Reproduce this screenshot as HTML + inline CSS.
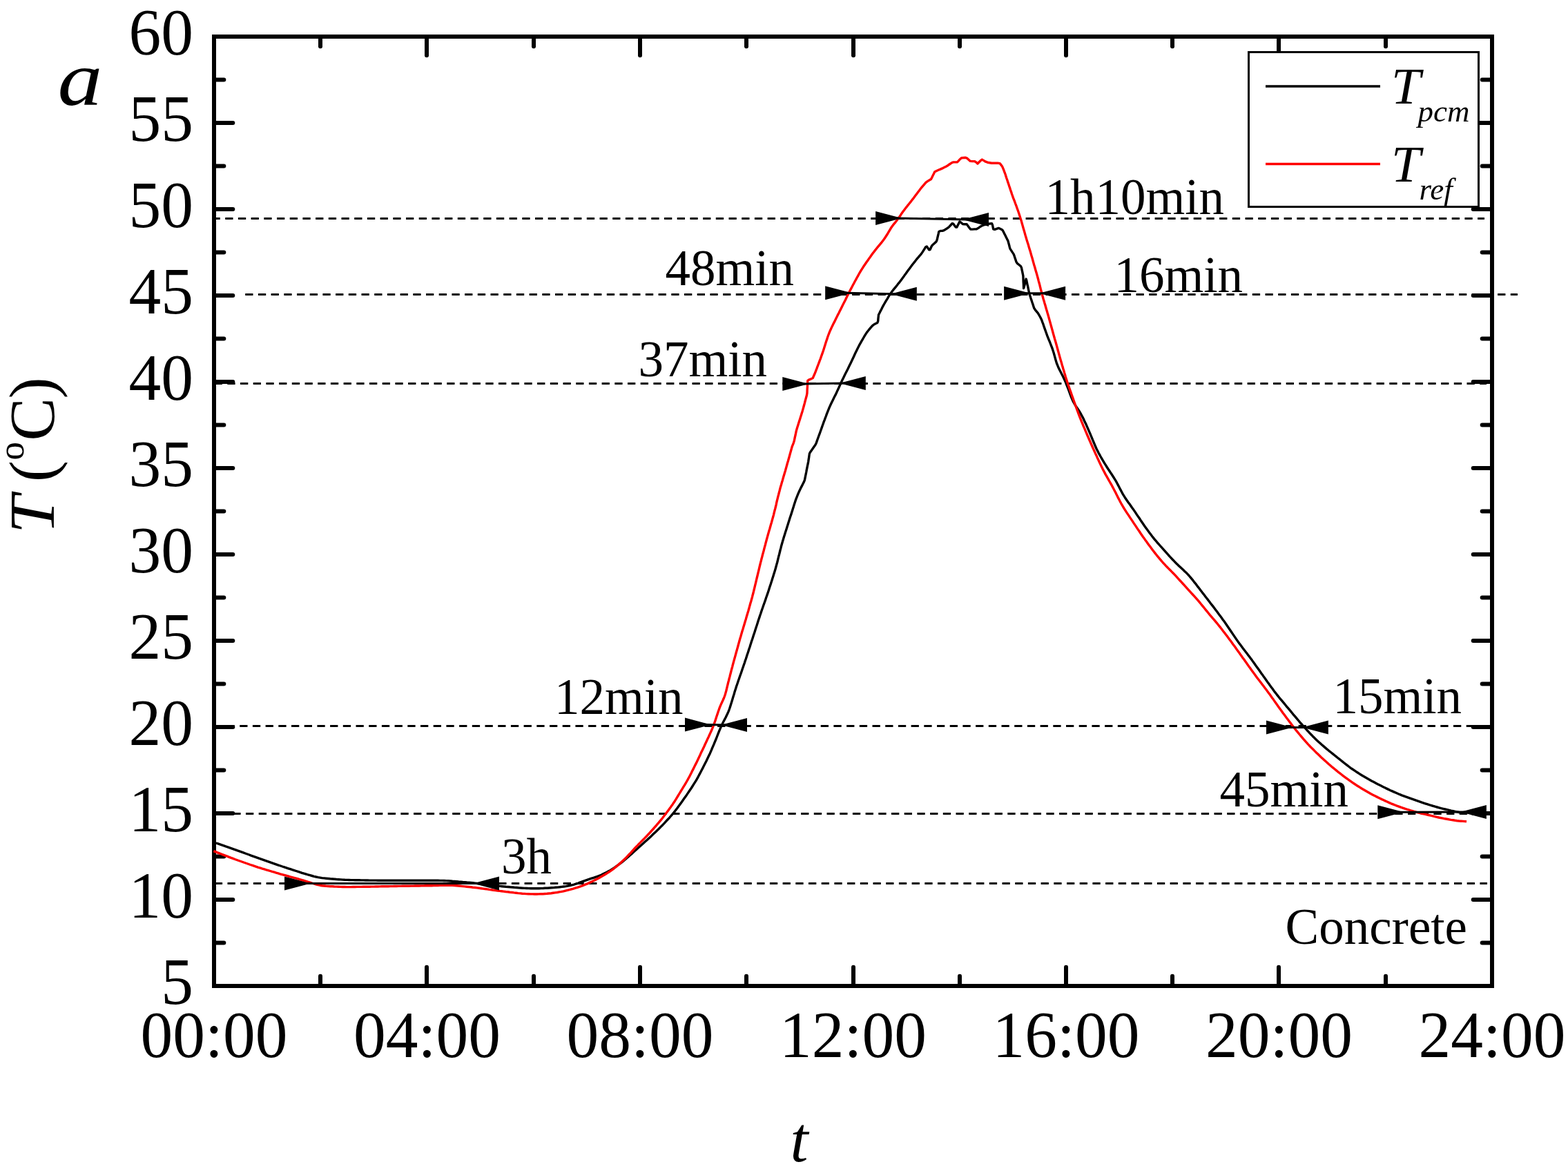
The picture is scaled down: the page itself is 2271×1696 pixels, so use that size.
<!DOCTYPE html>
<html lang="en"><head><meta charset="utf-8"><title>Concrete temperature</title>
<style>
html,body{margin:0;padding:0;background:#fff;}
body{width:2271px;height:1696px;overflow:hidden;}
svg{display:block;}
text{font-family:"Liberation Serif",serif;fill:#000;}
.tk{font-size:93.5px;}
.an{font-size:73px;}
.lg{font-size:73px;font-style:italic;}
.sub{font-size:45px;font-style:italic;}
</style></head><body>
<svg width="2271" height="1696" viewBox="0 0 2271 1696" role="img" aria-label="Concrete temperature over 24 hours">
<rect x="0" y="0" width="2271" height="1696" fill="#fff"/>
<g stroke="#000" stroke-width="6" stroke-linecap="round" fill="none">
<line x1="310.0" y1="1365.5" x2="324.3" y2="1365.5"/>
<line x1="2161.0" y1="1365.5" x2="2146.7" y2="1365.5"/>
<line x1="310.0" y1="1303.0" x2="337.3" y2="1303.0"/>
<line x1="2161.0" y1="1303.0" x2="2133.7" y2="1303.0"/>
<line x1="310.0" y1="1240.5" x2="324.3" y2="1240.5"/>
<line x1="2161.0" y1="1240.5" x2="2146.7" y2="1240.5"/>
<line x1="310.0" y1="1178.0" x2="337.3" y2="1178.0"/>
<line x1="2161.0" y1="1178.0" x2="2133.7" y2="1178.0"/>
<line x1="310.0" y1="1115.5" x2="324.3" y2="1115.5"/>
<line x1="2161.0" y1="1115.5" x2="2146.7" y2="1115.5"/>
<line x1="310.0" y1="1053.0" x2="337.3" y2="1053.0"/>
<line x1="2161.0" y1="1053.0" x2="2133.7" y2="1053.0"/>
<line x1="310.0" y1="990.5" x2="324.3" y2="990.5"/>
<line x1="2161.0" y1="990.5" x2="2146.7" y2="990.5"/>
<line x1="310.0" y1="928.0" x2="337.3" y2="928.0"/>
<line x1="2161.0" y1="928.0" x2="2133.7" y2="928.0"/>
<line x1="310.0" y1="865.5" x2="324.3" y2="865.5"/>
<line x1="2161.0" y1="865.5" x2="2146.7" y2="865.5"/>
<line x1="310.0" y1="803.0" x2="337.3" y2="803.0"/>
<line x1="2161.0" y1="803.0" x2="2133.7" y2="803.0"/>
<line x1="310.0" y1="740.5" x2="324.3" y2="740.5"/>
<line x1="2161.0" y1="740.5" x2="2146.7" y2="740.5"/>
<line x1="310.0" y1="678.0" x2="337.3" y2="678.0"/>
<line x1="2161.0" y1="678.0" x2="2133.7" y2="678.0"/>
<line x1="310.0" y1="615.5" x2="324.3" y2="615.5"/>
<line x1="2161.0" y1="615.5" x2="2146.7" y2="615.5"/>
<line x1="310.0" y1="553.0" x2="337.3" y2="553.0"/>
<line x1="2161.0" y1="553.0" x2="2133.7" y2="553.0"/>
<line x1="310.0" y1="490.5" x2="324.3" y2="490.5"/>
<line x1="2161.0" y1="490.5" x2="2146.7" y2="490.5"/>
<line x1="310.0" y1="428.0" x2="337.3" y2="428.0"/>
<line x1="2161.0" y1="428.0" x2="2133.7" y2="428.0"/>
<line x1="310.0" y1="365.5" x2="324.3" y2="365.5"/>
<line x1="2161.0" y1="365.5" x2="2146.7" y2="365.5"/>
<line x1="310.0" y1="303.0" x2="337.3" y2="303.0"/>
<line x1="2161.0" y1="303.0" x2="2133.7" y2="303.0"/>
<line x1="310.0" y1="240.5" x2="324.3" y2="240.5"/>
<line x1="2161.0" y1="240.5" x2="2146.7" y2="240.5"/>
<line x1="310.0" y1="178.0" x2="337.3" y2="178.0"/>
<line x1="2161.0" y1="178.0" x2="2133.7" y2="178.0"/>
<line x1="310.0" y1="115.5" x2="324.3" y2="115.5"/>
<line x1="2161.0" y1="115.5" x2="2146.7" y2="115.5"/>
<line x1="464.00" y1="1428.0" x2="464.00" y2="1413.7"/>
<line x1="464.00" y1="53.0" x2="464.00" y2="67.3"/>
<line x1="618.00" y1="1428.0" x2="618.00" y2="1400.7"/>
<line x1="618.00" y1="53.0" x2="618.00" y2="80.3"/>
<line x1="773.00" y1="1428.0" x2="773.00" y2="1413.7"/>
<line x1="773.00" y1="53.0" x2="773.00" y2="67.3"/>
<line x1="927.00" y1="1428.0" x2="927.00" y2="1400.7"/>
<line x1="927.00" y1="53.0" x2="927.00" y2="80.3"/>
<line x1="1081.00" y1="1428.0" x2="1081.00" y2="1413.7"/>
<line x1="1081.00" y1="53.0" x2="1081.00" y2="67.3"/>
<line x1="1236.00" y1="1428.0" x2="1236.00" y2="1400.7"/>
<line x1="1236.00" y1="53.0" x2="1236.00" y2="80.3"/>
<line x1="1390.00" y1="1428.0" x2="1390.00" y2="1413.7"/>
<line x1="1390.00" y1="53.0" x2="1390.00" y2="67.3"/>
<line x1="1544.00" y1="1428.0" x2="1544.00" y2="1400.7"/>
<line x1="1544.00" y1="53.0" x2="1544.00" y2="80.3"/>
<line x1="1698.00" y1="1428.0" x2="1698.00" y2="1413.7"/>
<line x1="1698.00" y1="53.0" x2="1698.00" y2="67.3"/>
<line x1="1852.00" y1="1428.0" x2="1852.00" y2="1400.7"/>
<line x1="1852.00" y1="53.0" x2="1852.00" y2="80.3"/>
<line x1="2007.00" y1="1428.0" x2="2007.00" y2="1413.7"/>
<line x1="2007.00" y1="53.0" x2="2007.00" y2="67.3"/>
</g>
<g stroke="#000" stroke-width="3" stroke-dasharray="11.3 7.4" fill="none">
<line x1="307.5" y1="316.5" x2="2150" y2="316.5"/>
<line x1="355.2" y1="426.5" x2="2198" y2="426.5"/>
<line x1="310.6" y1="555.5" x2="2153" y2="555.5"/>
<line x1="309.8" y1="1051.5" x2="2153" y2="1051.5"/>
<line x1="318.6" y1="1178.5" x2="2153" y2="1178.5"/>
<line x1="310.8" y1="1279.5" x2="2154" y2="1279.5"/>
</g>
<rect x="310.0" y="53.0" width="1851.0" height="1375.0" fill="none" stroke="#000" stroke-width="6"/>
<polyline points="310.0,1220.0 312.8,1221.0 315.7,1221.9 318.5,1222.9 321.3,1223.9 324.2,1224.9 327.0,1225.9 329.9,1226.8 332.7,1227.8 335.5,1228.8 338.3,1229.8 341.2,1230.8 344.0,1231.9 346.8,1232.9 349.6,1233.9 352.4,1234.9 355.3,1236.0 358.1,1237.0 360.9,1238.0 363.7,1239.1 366.5,1240.1 369.4,1241.1 372.2,1242.1 375.0,1243.1 377.8,1244.1 380.7,1245.1 383.5,1246.1 386.3,1247.1 389.2,1248.1 392.0,1249.1 394.8,1250.1 397.6,1251.1 400.5,1252.1 403.3,1253.1 406.2,1254.0 409.0,1255.0 411.8,1255.9 414.7,1256.9 417.5,1257.8 420.4,1258.7 423.2,1259.7 426.1,1260.6 429.0,1261.5 431.8,1262.4 434.7,1263.3 437.5,1264.3 440.4,1265.2 443.3,1266.0 446.1,1266.9 449.0,1267.7 451.9,1268.5 454.8,1269.3 457.7,1270.0 460.6,1270.6 463.6,1271.1 466.5,1271.6 469.5,1271.9 472.5,1272.2 475.5,1272.5 478.4,1272.8 481.4,1273.0 484.4,1273.2 487.4,1273.5 490.4,1273.7 493.4,1273.9 496.4,1274.1 499.4,1274.3 502.4,1274.4 505.4,1274.5 508.4,1274.6 511.4,1274.6 514.4,1274.7 517.4,1274.8 520.4,1274.8 523.4,1274.9 526.4,1274.9 529.4,1275.0 532.4,1275.0 535.4,1275.1 538.4,1275.1 541.4,1275.1 544.4,1275.1 547.4,1275.2 550.4,1275.2 553.4,1275.2 556.4,1275.2 559.4,1275.2 562.4,1275.2 565.4,1275.3 568.4,1275.3 571.4,1275.3 574.4,1275.3 577.4,1275.3 580.4,1275.3 583.4,1275.3 586.4,1275.3 589.4,1275.3 592.4,1275.3 595.4,1275.3 598.4,1275.3 601.4,1275.3 604.4,1275.3 607.4,1275.3 610.4,1275.3 613.4,1275.3 616.4,1275.3 619.4,1275.3 622.4,1275.3 625.4,1275.3 628.4,1275.3 631.4,1275.3 634.4,1275.3 637.4,1275.4 640.4,1275.4 643.4,1275.5 646.4,1275.6 649.4,1275.8 652.3,1276.0 655.3,1276.3 658.3,1276.5 661.3,1276.7 664.3,1277.0 667.3,1277.2 670.3,1277.5 673.3,1277.7 676.3,1278.0 679.3,1278.2 682.2,1278.5 685.2,1278.8 688.2,1279.1 691.2,1279.5 694.2,1279.8 697.1,1280.2 700.1,1280.6 703.1,1280.9 706.1,1281.3 709.0,1281.7 712.0,1282.1 715.0,1282.4 718.0,1282.8 721.0,1283.1 723.9,1283.4 726.9,1283.7 729.9,1284.0 732.9,1284.3 735.9,1284.5 738.9,1284.8 741.9,1285.0 744.9,1285.3 747.8,1285.5 750.8,1285.8 753.8,1286.0 756.8,1286.2 759.8,1286.4 762.8,1286.5 765.8,1286.6 768.8,1286.7 771.8,1286.8 774.8,1286.8 777.8,1286.8 780.8,1286.7 783.8,1286.6 786.8,1286.5 789.8,1286.3 792.8,1286.2 795.8,1286.0 798.8,1285.8 801.8,1285.6 804.7,1285.3 807.7,1285.1 810.7,1284.8 813.7,1284.4 816.7,1284.0 819.6,1283.6 822.6,1283.0 825.5,1282.5 828.4,1281.8 831.3,1281.1 834.2,1280.2 837.0,1279.3 839.8,1278.2 842.6,1277.2 845.4,1276.1 848.2,1275.1 851.1,1274.1 853.9,1273.2 856.8,1272.2 859.6,1271.3 862.4,1270.4 865.3,1269.4 868.1,1268.3 870.8,1267.2 873.5,1265.9 876.2,1264.6 878.9,1263.3 881.5,1261.8 884.1,1260.4 886.7,1258.8 889.2,1257.2 891.6,1255.5 894.1,1253.7 896.5,1251.9 898.9,1250.1 901.2,1248.3 903.6,1246.4 905.9,1244.5 908.1,1242.5 910.4,1240.6 912.6,1238.6 914.9,1236.6 917.1,1234.6 919.3,1232.6 921.6,1230.5 923.8,1228.5 926.0,1226.5 928.3,1224.5 930.5,1222.5 932.7,1220.5 934.9,1218.5 937.2,1216.5 939.4,1214.4 941.6,1212.4 943.8,1210.4 945.9,1208.3 948.1,1206.2 950.3,1204.2 952.5,1202.1 954.6,1200.0 956.7,1197.9 958.8,1195.8 960.9,1193.6 963.0,1191.4 965.0,1189.2 967.0,1187.0 969.1,1184.8 971.1,1182.5 973.0,1180.3 975.0,1178.0 976.9,1175.7 978.7,1173.3 980.5,1170.9 982.3,1168.5 984.1,1166.1 985.8,1163.7 987.6,1161.2 989.3,1158.8 991.0,1156.3 992.7,1153.9 994.5,1151.4 996.2,1148.9 997.8,1146.5 999.5,1144.0 1001.2,1141.5 1002.8,1139.0 1004.4,1136.4 1006.0,1133.9 1007.6,1131.3 1009.1,1128.8 1010.6,1126.2 1012.0,1123.5 1013.4,1120.9 1014.8,1118.2 1016.2,1115.5 1017.6,1112.9 1018.9,1110.2 1020.3,1107.5 1021.6,1104.9 1023.0,1102.2 1024.3,1099.5 1025.6,1096.8 1026.9,1094.1 1028.2,1091.4 1029.4,1088.6 1030.6,1085.9 1031.7,1083.1 1032.9,1080.3 1034.1,1077.6 1035.2,1074.8 1036.4,1072.0 1037.5,1069.3 1038.6,1066.5 1039.7,1063.7 1040.8,1060.9 1041.9,1058.1 1043.1,1055.3 1044.3,1052.6 1045.5,1049.9 1046.8,1047.2 1048.2,1044.5 1049.6,1041.9 1051.0,1039.2 1052.3,1036.5 1053.6,1033.8 1054.8,1031.1 1055.9,1028.3 1056.9,1025.5 1057.8,1022.7 1058.7,1019.8 1059.6,1017.0 1060.5,1014.1 1061.3,1011.2 1062.2,1008.3 1063.1,1005.5 1063.9,1002.6 1064.8,999.7 1065.7,996.9 1066.6,994.0 1067.6,991.2 1068.6,988.3 1069.5,985.5 1070.5,982.7 1071.5,979.8 1072.5,977.0 1073.5,974.2 1074.5,971.3 1075.4,968.5 1076.4,965.7 1077.4,962.8 1078.4,960.0 1079.3,957.1 1080.3,954.3 1081.2,951.4 1082.1,948.6 1083.1,945.7 1084.0,942.9 1084.9,940.0 1085.9,937.2 1086.8,934.3 1087.7,931.5 1088.6,928.6 1089.6,925.8 1090.5,922.9 1091.4,920.1 1092.4,917.2 1093.3,914.4 1094.2,911.5 1095.1,908.7 1096.1,905.8 1097.0,902.9 1097.9,900.1 1098.8,897.2 1099.8,894.4 1100.7,891.5 1101.7,888.7 1102.6,885.9 1103.6,883.0 1104.6,880.2 1105.6,877.3 1106.6,874.5 1107.6,871.7 1108.6,868.9 1109.5,866.0 1110.5,863.2 1111.5,860.4 1112.5,857.5 1113.4,854.7 1114.3,851.8 1115.2,849.0 1116.2,846.1 1117.1,843.2 1118.0,840.4 1118.9,837.5 1119.8,834.7 1120.7,831.8 1121.6,828.9 1122.5,826.1 1123.3,823.2 1124.1,820.3 1124.9,817.4 1125.7,814.5 1126.4,811.6 1127.1,808.7 1127.8,805.8 1128.6,802.9 1129.3,800.0 1130.0,797.0 1130.8,794.1 1131.5,791.2 1132.3,788.3 1133.1,785.5 1134.0,782.6 1134.8,779.7 1135.7,776.8 1136.6,774.0 1137.5,771.1 1138.4,768.3 1139.3,765.4 1140.2,762.5 1141.1,759.7 1142.0,756.8 1142.9,754.0 1143.8,751.1 1144.7,748.2 1145.7,745.4 1146.6,742.5 1147.5,739.7 1148.4,736.8 1149.3,733.9 1150.2,731.1 1151.1,728.2 1152.0,725.4 1153.0,722.6 1154.1,719.8 1155.2,717.0 1156.4,714.2 1157.6,711.5 1158.9,708.8 1160.2,706.1 1161.6,703.4 1162.9,700.7 1164.3,698.1 1165.4,695.3 1166.0,692.4 1166.6,689.4 1167.2,686.5 1167.8,683.5 1168.3,680.6 1168.9,677.7 1169.5,674.7 1170.1,671.8 1170.7,668.8 1171.1,665.9 1171.6,662.9 1172.0,659.9 1172.4,657.0 1173.8,654.4 1175.6,651.9 1177.3,649.5 1179.0,647.1 1180.8,644.6 1182.1,642.0 1183.1,639.1 1184.1,636.3 1185.1,633.5 1186.1,630.7 1187.2,627.8 1188.2,625.0 1189.2,622.2 1190.2,619.4 1191.2,616.5 1192.2,613.7 1193.2,610.9 1194.3,608.1 1195.3,605.3 1196.4,602.5 1197.4,599.6 1198.5,596.8 1199.6,594.1 1200.7,591.3 1201.9,588.6 1203.2,585.8 1204.5,583.1 1205.8,580.4 1207.1,577.7 1208.4,575.0 1209.8,572.4 1211.1,569.7 1212.4,566.9 1213.6,564.2 1214.9,561.5 1216.1,558.8 1217.4,556.1 1218.6,553.3 1219.9,550.6 1221.2,547.9 1222.5,545.2 1223.8,542.5 1225.2,539.8 1226.5,537.2 1227.9,534.5 1229.2,531.8 1230.5,529.1 1231.8,526.4 1233.1,523.7 1234.4,521.0 1235.7,518.3 1237.0,515.5 1238.2,512.8 1239.5,510.1 1240.8,507.4 1242.1,504.7 1243.5,502.0 1244.8,499.4 1246.3,496.8 1247.8,494.1 1249.3,491.6 1250.8,489.0 1252.3,486.4 1253.9,483.8 1255.5,481.3 1257.4,479.0 1259.3,476.7 1261.2,474.4 1263.2,472.1 1265.4,470.2 1268.1,468.8 1270.8,467.5 1271.7,464.9 1271.9,462.0 1272.2,459.0 1272.5,456.0 1273.9,453.3 1275.2,450.6 1276.6,448.0 1277.9,445.3 1279.3,442.6 1280.8,440.0 1282.3,437.4 1283.8,434.9 1285.4,432.3 1286.9,429.7 1288.5,427.2 1290.2,424.7 1291.9,422.3 1293.7,419.9 1295.6,417.6 1297.5,415.3 1299.4,413.0 1301.2,410.6 1303.1,408.3 1304.9,405.9 1306.7,403.5 1308.5,401.1 1310.2,398.6 1312.0,396.2 1313.7,393.8 1315.5,391.3 1317.3,388.9 1319.1,386.5 1320.9,384.1 1322.7,381.8 1324.6,379.4 1326.4,377.0 1328.3,374.7 1330.3,372.4 1332.2,370.1 1334.2,367.9 1335.9,365.4 1337.5,362.9 1339.1,360.3 1340.6,357.8 1342.3,356.9 1344.0,359.4 1345.6,361.9 1347.1,361.5 1348.3,358.8 1349.6,356.0 1351.6,353.9 1353.8,351.9 1356.1,349.9 1357.2,347.2 1357.8,344.3 1358.5,341.4 1359.2,338.4 1359.8,335.5 1362.0,334.4 1365.0,334.4 1367.7,333.4 1370.2,331.7 1372.7,330.1 1375.0,328.2 1377.0,326.0 1379.0,323.7 1380.8,324.2 1382.6,326.7 1384.3,329.1 1385.9,329.0 1387.2,326.3 1388.6,323.6 1389.9,320.9 1392.1,322.5 1394.4,324.5 1397.3,324.8 1400.2,324.8 1402.0,327.3 1403.8,329.7 1405.6,332.1 1408.5,332.1 1411.4,331.9 1414.4,331.7 1417.0,330.3 1419.4,328.5 1422.0,327.0 1424.8,325.9 1427.6,324.8 1430.5,324.4 1433.5,324.0 1436.5,323.6 1437.5,325.9 1438.1,328.9 1438.7,331.8 1440.7,332.4 1443.5,331.4 1446.3,330.4 1449.0,331.5 1451.7,332.9 1453.2,335.4 1454.5,338.1 1455.9,340.7 1457.2,343.4 1458.5,346.1 1459.9,348.8 1460.7,351.7 1461.5,354.6 1462.2,357.5 1463.0,360.4 1464.7,362.9 1466.3,365.4 1468.0,367.9 1469.1,370.7 1470.0,373.5 1471.0,376.4 1471.9,379.2 1473.5,381.6 1475.9,383.5 1478.2,385.3 1479.5,387.8 1480.1,390.8 1480.7,393.7 1481.3,396.6 1481.9,399.6 1482.0,402.6 1482.1,405.6 1482.2,408.6 1482.4,411.6 1482.5,414.6 1482.6,417.6 1483.2,415.7 1483.9,412.8 1484.6,409.9 1485.3,407.0 1486.1,404.1 1486.7,405.9 1487.3,408.8 1487.9,411.7 1488.6,414.7 1489.2,417.6 1489.8,420.5 1490.4,423.5 1491.2,426.4 1492.1,429.2 1493.0,432.1 1494.0,434.9 1494.9,437.8 1495.9,440.6 1496.8,443.5 1497.7,446.3 1499.4,448.8 1501.3,451.1 1503.2,453.4 1504.7,455.9 1506.2,458.5 1507.6,461.1 1508.8,463.8 1509.8,466.6 1510.9,469.4 1511.8,472.2 1512.8,475.1 1513.8,477.9 1514.8,480.7 1515.8,483.5 1516.8,486.4 1517.9,489.2 1519.0,491.9 1520.2,494.7 1521.3,497.5 1522.4,500.3 1523.5,503.1 1524.5,505.9 1525.4,508.7 1526.3,511.6 1527.1,514.5 1527.9,517.4 1528.7,520.2 1529.5,523.1 1530.4,526.0 1531.5,528.7 1532.6,531.5 1533.9,534.2 1535.2,536.8 1536.6,539.5 1538.0,542.2 1539.3,544.8 1540.6,547.5 1541.9,550.3 1543.1,553.0 1544.2,555.8 1545.3,558.6 1546.4,561.4 1547.5,564.2 1548.5,567.0 1549.5,569.8 1550.6,572.6 1551.6,575.4 1552.8,578.2 1554.0,580.9 1555.4,583.5 1556.9,586.1 1558.5,588.6 1560.1,591.0 1561.8,593.5 1563.4,596.0 1565.0,598.6 1566.4,601.2 1567.8,603.8 1569.2,606.5 1570.4,609.2 1571.7,611.9 1573.0,614.6 1574.2,617.4 1575.4,620.1 1576.6,622.9 1577.8,625.6 1579.0,628.4 1580.1,631.1 1581.3,633.9 1582.4,636.7 1583.6,639.5 1584.7,642.2 1585.9,645.0 1587.1,647.7 1588.3,650.5 1589.7,653.1 1591.0,655.8 1592.5,658.4 1593.9,661.0 1595.4,663.6 1596.9,666.2 1598.5,668.8 1600.0,671.4 1601.6,673.9 1603.2,676.5 1604.8,679.0 1606.5,681.5 1608.1,684.0 1609.8,686.5 1611.4,689.0 1613.0,691.5 1614.6,694.1 1616.2,696.6 1617.6,699.2 1619.0,701.9 1620.4,704.5 1621.8,707.2 1623.2,709.9 1624.6,712.5 1626.0,715.1 1627.5,717.7 1629.1,720.2 1630.8,722.7 1632.5,725.2 1634.2,727.7 1636.0,730.1 1637.7,732.5 1639.4,735.0 1641.2,737.4 1642.9,739.9 1644.6,742.4 1646.2,744.9 1647.9,747.4 1649.6,749.8 1651.3,752.3 1652.9,754.8 1654.6,757.3 1656.3,759.8 1658.0,762.2 1659.8,764.7 1661.5,767.1 1663.3,769.5 1665.1,771.9 1666.9,774.3 1668.7,776.7 1670.6,779.1 1672.4,781.4 1674.4,783.7 1676.3,786.0 1678.3,788.2 1680.3,790.5 1682.3,792.7 1684.3,794.9 1686.3,797.2 1688.3,799.4 1690.3,801.6 1692.3,803.9 1694.3,806.1 1696.4,808.3 1698.4,810.5 1700.5,812.7 1702.5,814.8 1704.7,816.9 1706.8,819.0 1709.0,821.1 1711.2,823.1 1713.4,825.1 1715.6,827.2 1717.8,829.2 1719.9,831.4 1721.9,833.5 1723.9,835.8 1725.8,838.1 1727.7,840.4 1729.5,842.8 1731.4,845.1 1733.2,847.5 1735.0,849.9 1736.9,852.3 1738.7,854.7 1740.5,857.0 1742.3,859.4 1744.2,861.8 1746.0,864.2 1747.8,866.5 1749.7,868.9 1751.5,871.3 1753.3,873.7 1755.2,876.1 1757.0,878.4 1758.8,880.8 1760.6,883.2 1762.4,885.6 1764.2,888.0 1766.0,890.4 1767.8,892.8 1769.6,895.2 1771.3,897.7 1773.1,900.1 1774.8,902.5 1776.5,905.0 1778.2,907.5 1779.9,910.0 1781.6,912.5 1783.3,915.0 1784.9,917.4 1786.6,919.9 1788.3,922.4 1790.0,924.9 1791.7,927.4 1793.4,929.8 1795.2,932.2 1797.0,934.6 1798.8,937.0 1800.6,939.4 1802.4,941.8 1804.3,944.2 1806.1,946.5 1807.9,948.9 1809.7,951.3 1811.5,953.7 1813.3,956.1 1815.0,958.6 1816.8,961.0 1818.5,963.5 1820.3,965.9 1822.0,968.3 1823.8,970.8 1825.5,973.2 1827.2,975.7 1829.0,978.1 1830.7,980.6 1832.5,983.0 1834.2,985.4 1835.9,987.9 1837.7,990.3 1839.4,992.8 1841.2,995.2 1843.0,997.6 1844.7,1000.0 1846.5,1002.4 1848.4,1004.8 1850.2,1007.1 1852.1,1009.5 1854.0,1011.8 1856.0,1014.1 1857.9,1016.4 1859.8,1018.7 1861.7,1021.0 1863.6,1023.3 1865.6,1025.6 1867.5,1027.9 1869.4,1030.2 1871.3,1032.5 1873.2,1034.8 1875.2,1037.1 1877.1,1039.4 1879.0,1041.7 1881.0,1044.0 1882.9,1046.3 1884.9,1048.5 1886.9,1050.8 1888.9,1053.0 1890.9,1055.2 1892.9,1057.5 1895.0,1059.7 1897.0,1061.9 1899.1,1064.0 1901.2,1066.2 1903.3,1068.3 1905.5,1070.4 1907.6,1072.4 1909.8,1074.4 1912.1,1076.5 1914.3,1078.5 1916.5,1080.4 1918.8,1082.4 1921.1,1084.4 1923.4,1086.3 1925.7,1088.2 1928.1,1090.0 1930.4,1091.9 1932.7,1093.8 1935.1,1095.7 1937.4,1097.5 1939.8,1099.4 1942.1,1101.3 1944.5,1103.2 1946.8,1105.0 1949.2,1106.9 1951.5,1108.7 1953.9,1110.5 1956.3,1112.3 1958.8,1114.0 1961.3,1115.7 1963.8,1117.4 1966.3,1119.0 1968.8,1120.6 1971.3,1122.2 1973.9,1123.8 1976.5,1125.3 1979.1,1126.8 1981.7,1128.3 1984.3,1129.7 1986.9,1131.2 1989.6,1132.6 1992.2,1134.0 1994.9,1135.4 1997.6,1136.8 2000.2,1138.1 2002.9,1139.5 2005.6,1140.8 2008.3,1142.1 2011.0,1143.4 2013.7,1144.7 2016.5,1145.9 2019.2,1147.1 2021.9,1148.3 2024.7,1149.5 2027.5,1150.7 2030.3,1151.8 2033.1,1152.8 2035.9,1153.9 2038.7,1154.9 2041.5,1155.9 2044.3,1156.9 2047.2,1157.9 2050.0,1158.9 2052.8,1159.9 2055.7,1160.9 2058.5,1161.9 2061.3,1162.8 2064.2,1163.8 2067.0,1164.7 2069.9,1165.6 2072.8,1166.5 2075.6,1167.3 2078.5,1168.2 2081.4,1169.0 2084.3,1169.8 2087.2,1170.6 2090.1,1171.3 2093.0,1172.0 2095.9,1172.7 2098.8,1173.4 2101.8,1174.1 2104.7,1174.7 2107.6,1175.3 2110.5,1175.9 2113.3,1176.5 2116.1,1177.0 2118.6,1177.6 2121.0,1178.0 2123.3,1178.5" fill="none" stroke="#000" stroke-width="3.4" stroke-linejoin="round"/>
<polyline points="309.4,1232.6 312.2,1233.7 315.0,1234.8 317.8,1235.9 320.6,1237.0 323.4,1238.1 326.2,1239.2 329.0,1240.2 331.8,1241.3 334.6,1242.4 337.4,1243.4 340.2,1244.5 343.0,1245.5 345.8,1246.5 348.7,1247.5 351.5,1248.5 354.3,1249.5 357.2,1250.5 360.0,1251.5 362.8,1252.5 365.7,1253.4 368.5,1254.4 371.3,1255.3 374.2,1256.3 377.1,1257.2 379.9,1258.1 382.8,1258.9 385.7,1259.8 388.5,1260.6 391.4,1261.5 394.3,1262.4 397.2,1263.2 400.0,1264.1 402.9,1264.9 405.8,1265.8 408.7,1266.6 411.6,1267.4 414.5,1268.2 417.3,1269.0 420.2,1269.8 423.1,1270.6 426.0,1271.4 428.9,1272.2 431.8,1273.0 434.7,1273.8 437.6,1274.7 440.5,1275.5 443.3,1276.4 446.2,1277.3 449.0,1278.2 451.9,1279.1 454.7,1280.0 457.6,1280.9 460.5,1281.6 463.4,1282.2 466.3,1282.7 469.3,1283.0 472.2,1283.3 475.2,1283.5 478.2,1283.7 481.2,1283.8 484.2,1284.0 487.2,1284.1 490.2,1284.2 493.2,1284.4 496.2,1284.5 499.2,1284.5 502.2,1284.6 505.2,1284.6 508.2,1284.6 511.2,1284.5 514.2,1284.5 517.2,1284.4 520.2,1284.4 523.2,1284.4 526.2,1284.3 529.2,1284.3 532.2,1284.2 535.2,1284.2 538.2,1284.1 541.2,1284.1 544.2,1284.0 547.2,1284.0 550.2,1283.9 553.2,1283.8 556.2,1283.8 559.2,1283.7 562.2,1283.7 565.2,1283.6 568.2,1283.6 571.2,1283.5 574.2,1283.5 577.2,1283.4 580.2,1283.4 583.2,1283.3 586.2,1283.3 589.2,1283.2 592.2,1283.2 595.2,1283.1 598.2,1283.1 601.2,1283.0 604.2,1283.0 607.2,1283.0 610.2,1282.9 613.2,1282.9 616.2,1282.8 619.2,1282.8 622.2,1282.7 625.2,1282.7 628.2,1282.6 631.2,1282.6 634.2,1282.5 637.2,1282.4 640.2,1282.4 643.2,1282.3 646.2,1282.2 649.1,1282.1 652.1,1282.2 655.1,1282.3 658.1,1282.5 661.1,1282.7 664.1,1283.0 667.0,1283.3 670.0,1283.6 673.0,1283.9 676.0,1284.2 679.0,1284.5 682.0,1284.8 684.9,1285.2 687.9,1285.5 690.9,1285.9 693.9,1286.3 696.8,1286.7 699.8,1287.1 702.8,1287.5 705.8,1287.9 708.7,1288.4 711.7,1288.8 714.7,1289.2 717.6,1289.6 720.6,1290.0 723.6,1290.4 726.6,1290.7 729.6,1291.1 732.5,1291.5 735.5,1291.8 738.5,1292.2 741.5,1292.5 744.4,1292.9 747.4,1293.2 750.4,1293.6 753.4,1293.9 756.4,1294.2 759.4,1294.4 762.4,1294.6 765.3,1294.7 768.3,1294.9 771.3,1294.9 774.3,1295.0 777.3,1295.0 780.3,1294.9 783.3,1294.8 786.3,1294.7 789.3,1294.5 792.3,1294.3 795.3,1294.0 798.3,1293.7 801.2,1293.3 804.2,1292.9 807.2,1292.5 810.1,1291.9 813.1,1291.4 816.0,1290.8 818.9,1290.1 821.8,1289.4 824.7,1288.7 827.6,1287.9 830.5,1287.1 833.4,1286.2 836.2,1285.3 839.1,1284.3 841.9,1283.3 844.7,1282.3 847.5,1281.2 850.3,1280.1 853.0,1278.9 855.7,1277.6 858.4,1276.3 861.1,1274.9 863.8,1273.6 866.4,1272.2 869.0,1270.7 871.6,1269.2 874.2,1267.7 876.8,1266.2 879.4,1264.6 881.9,1263.0 884.4,1261.3 886.8,1259.6 889.2,1257.8 891.5,1255.9 893.8,1254.0 896.1,1252.1 898.4,1250.1 900.6,1248.1 902.8,1246.1 905.0,1244.0 907.1,1241.9 909.2,1239.7 911.2,1237.5 913.3,1235.3 915.3,1233.1 917.3,1230.9 919.3,1228.7 921.4,1226.5 923.5,1224.4 925.5,1222.2 927.6,1220.1 929.7,1217.9 931.9,1215.8 934.0,1213.6 936.1,1211.5 938.1,1209.3 940.2,1207.2 942.2,1205.0 944.2,1202.7 946.2,1200.5 948.2,1198.2 950.2,1196.0 952.1,1193.7 954.1,1191.4 956.0,1189.1 957.9,1186.8 959.8,1184.5 961.6,1182.1 963.4,1179.7 965.2,1177.3 967.0,1174.9 968.8,1172.5 970.6,1170.1 972.3,1167.6 974.1,1165.2 975.7,1162.7 977.4,1160.2 979.0,1157.7 980.5,1155.1 982.1,1152.5 983.6,1150.0 985.2,1147.4 986.7,1144.8 988.3,1142.3 989.9,1139.7 991.5,1137.2 993.0,1134.6 994.5,1132.0 996.0,1129.4 997.4,1126.8 998.9,1124.1 1000.2,1121.5 1001.6,1118.8 1002.9,1116.1 1004.3,1113.4 1005.6,1110.8 1006.9,1108.1 1008.3,1105.4 1009.6,1102.7 1010.9,1100.0 1012.2,1097.3 1013.5,1094.6 1014.7,1091.8 1016.0,1089.1 1017.3,1086.4 1018.6,1083.7 1019.9,1081.0 1021.1,1078.3 1022.4,1075.6 1023.7,1072.8 1024.9,1070.1 1026.2,1067.4 1027.4,1064.7 1028.7,1061.9 1029.9,1059.2 1031.1,1056.5 1032.3,1053.7 1033.4,1050.9 1034.4,1048.1 1035.4,1045.3 1036.4,1042.4 1037.3,1039.6 1038.2,1036.7 1039.2,1033.9 1040.1,1031.0 1041.1,1028.2 1042.1,1025.4 1043.2,1022.6 1044.4,1019.9 1045.6,1017.2 1046.9,1014.5 1048.1,1011.8 1049.2,1009.0 1050.2,1006.2 1051.0,1003.4 1051.8,1000.5 1052.5,997.6 1053.2,994.7 1053.9,991.8 1054.6,988.8 1055.4,985.9 1056.1,983.0 1056.9,980.1 1057.6,977.2 1058.4,974.3 1059.1,971.4 1059.9,968.5 1060.7,965.6 1061.4,962.7 1062.2,959.8 1063.0,956.9 1063.8,954.0 1064.6,951.1 1065.4,948.2 1066.2,945.3 1067.0,942.5 1067.8,939.6 1068.6,936.7 1069.4,933.8 1070.2,930.9 1071.0,928.0 1071.8,925.1 1072.7,922.2 1073.5,919.4 1074.3,916.5 1075.2,913.6 1076.1,910.7 1076.9,907.9 1077.8,905.0 1078.7,902.1 1079.5,899.2 1080.4,896.4 1081.2,893.5 1082.1,890.6 1082.9,887.7 1083.8,884.9 1084.6,882.0 1085.4,879.1 1086.2,876.2 1087.0,873.3 1087.9,870.4 1088.7,867.5 1089.5,864.6 1090.2,861.7 1091.0,858.8 1091.7,855.9 1092.4,853.0 1093.1,850.1 1093.8,847.2 1094.5,844.3 1095.2,841.4 1095.9,838.4 1096.6,835.5 1097.3,832.6 1098.0,829.7 1098.7,826.8 1099.4,823.8 1100.1,820.9 1100.8,818.0 1101.5,815.1 1102.3,812.2 1103.0,809.3 1103.8,806.4 1104.5,803.5 1105.3,800.6 1106.1,797.7 1106.8,794.8 1107.6,791.9 1108.4,789.0 1109.1,786.1 1109.9,783.2 1110.7,780.3 1111.5,777.4 1112.3,774.5 1113.1,771.6 1113.9,768.7 1114.8,765.9 1115.6,763.0 1116.4,760.1 1117.3,757.2 1118.1,754.3 1118.9,751.4 1119.7,748.5 1120.5,745.6 1121.2,742.7 1121.9,739.8 1122.7,736.9 1123.4,734.0 1124.1,731.1 1124.7,728.2 1125.4,725.2 1126.1,722.3 1126.8,719.4 1127.6,716.5 1128.3,713.6 1129.1,710.7 1129.8,707.8 1130.6,704.9 1131.5,702.0 1132.3,699.1 1133.2,696.3 1134.0,693.4 1134.8,690.5 1135.7,687.6 1136.5,684.7 1137.4,681.9 1138.2,679.0 1139.0,676.1 1139.8,673.2 1140.6,670.3 1141.5,667.4 1142.3,664.5 1143.1,661.7 1143.9,658.8 1144.7,655.9 1145.5,653.0 1146.3,650.1 1147.1,647.2 1148.2,644.4 1149.3,641.6 1150.2,638.8 1150.8,635.8 1151.4,632.9 1152.1,630.0 1152.7,627.0 1153.3,624.1 1154.1,621.2 1155.0,618.3 1155.9,615.5 1156.8,612.6 1157.7,609.8 1158.6,606.9 1159.5,604.0 1160.4,601.2 1161.3,598.3 1162.2,595.4 1163.0,592.6 1163.8,589.7 1164.6,586.8 1165.4,583.9 1166.1,581.0 1166.9,578.1 1167.7,575.2 1168.5,572.3 1169.0,569.3 1169.1,566.3 1169.2,563.3 1169.4,560.3 1169.5,557.3 1169.6,554.4 1169.8,551.4 1171.9,549.8 1174.7,548.8 1177.3,547.5 1178.5,544.7 1179.7,542.0 1180.9,539.2 1181.9,536.4 1183.0,533.6 1184.0,530.8 1185.1,528.0 1186.2,525.2 1187.2,522.4 1188.3,519.6 1189.3,516.8 1190.3,513.9 1191.3,511.1 1192.3,508.3 1193.2,505.4 1194.1,502.6 1195.0,499.7 1195.9,496.8 1196.8,494.0 1197.8,491.1 1198.7,488.3 1199.7,485.5 1200.8,482.7 1201.9,479.9 1203.1,477.2 1204.4,474.4 1205.7,471.7 1207.0,469.1 1208.4,466.4 1209.7,463.7 1211.0,461.0 1212.4,458.3 1213.7,455.6 1215.1,453.0 1216.4,450.3 1217.8,447.6 1219.1,444.9 1220.4,442.2 1221.8,439.5 1223.1,436.9 1224.5,434.2 1225.8,431.5 1227.1,428.8 1228.5,426.1 1229.8,423.5 1231.2,420.8 1232.6,418.1 1234.0,415.5 1235.4,412.8 1236.8,410.2 1238.2,407.5 1239.7,404.9 1241.1,402.3 1242.6,399.6 1244.0,397.0 1245.5,394.4 1247.0,391.9 1248.6,389.3 1250.2,386.8 1251.9,384.3 1253.6,381.8 1255.3,379.3 1257.0,376.9 1258.7,374.4 1260.5,372.0 1262.2,369.6 1264.0,367.1 1265.8,364.7 1267.6,362.4 1269.5,360.0 1271.4,357.7 1273.3,355.4 1275.2,353.1 1277.1,350.8 1278.9,348.4 1280.7,346.0 1282.4,343.5 1284.0,341.0 1285.6,338.5 1287.1,335.9 1288.6,333.3 1290.1,330.8 1291.8,328.3 1293.5,325.9 1295.4,323.6 1297.3,321.3 1299.1,319.0 1300.9,316.6 1302.6,314.2 1304.3,311.7 1305.9,309.2 1307.6,306.8 1309.4,304.4 1311.2,302.0 1313.1,299.7 1314.9,297.3 1316.8,295.0 1318.7,292.7 1320.5,290.3 1322.4,287.9 1324.2,285.5 1326.0,283.1 1327.8,280.7 1329.6,278.3 1331.4,275.9 1333.2,273.5 1335.1,271.2 1337.1,268.9 1339.0,266.7 1340.9,264.4 1343.3,262.6 1345.9,261.0 1348.5,259.5 1349.8,256.9 1351.1,254.2 1352.5,251.5 1353.8,248.8 1356.5,247.5 1359.2,246.3 1362.0,245.1 1364.7,243.9 1367.4,242.5 1370.1,241.2 1372.7,239.7 1375.1,238.0 1377.6,236.3 1380.2,234.9 1383.2,234.9 1386.2,234.9 1388.3,233.0 1390.3,230.7 1392.5,228.8 1395.5,228.5 1398.5,228.2 1401.0,229.4 1403.2,231.4 1405.4,233.4 1408.4,233.6 1411.4,233.6 1413.8,234.9 1415.9,237.0 1418.1,234.8 1420.2,232.7 1422.4,231.1 1425.0,232.6 1427.5,234.2 1430.3,235.2 1433.3,235.7 1436.2,236.2 1439.2,236.3 1442.2,236.3 1445.2,236.3 1448.1,236.6 1449.9,238.9 1451.7,241.3 1452.9,244.1 1454.0,246.9 1455.0,249.7 1456.1,252.5 1457.0,255.4 1457.9,258.2 1458.9,261.0 1459.8,263.9 1460.8,266.7 1461.7,269.6 1462.7,272.4 1463.6,275.3 1464.6,278.1 1465.5,281.0 1466.5,283.8 1467.5,286.6 1468.6,289.4 1469.7,292.2 1470.7,295.0 1471.8,297.8 1472.8,300.7 1473.8,303.5 1474.8,306.3 1475.8,309.2 1476.7,312.0 1477.6,314.9 1478.5,317.7 1479.4,320.6 1480.2,323.5 1481.0,326.4 1481.8,329.2 1482.6,332.1 1483.5,335.0 1484.3,337.9 1485.1,340.8 1486.0,343.7 1486.8,346.5 1487.7,349.4 1488.6,352.3 1489.5,355.1 1490.3,358.0 1491.2,360.9 1492.1,363.8 1492.9,366.6 1493.7,369.5 1494.6,372.4 1495.4,375.3 1496.2,378.2 1497.0,381.1 1497.8,384.0 1498.7,386.8 1499.5,389.7 1500.3,392.6 1501.2,395.5 1502.0,398.4 1502.8,401.3 1503.6,404.2 1504.3,407.1 1505.1,410.0 1505.9,412.9 1506.6,415.8 1507.3,418.7 1508.1,421.6 1508.8,424.5 1509.6,427.4 1510.4,430.3 1511.2,433.2 1512.1,436.0 1512.9,438.9 1513.8,441.8 1514.6,444.7 1515.4,447.5 1516.3,450.4 1517.1,453.3 1518.0,456.2 1518.8,459.1 1519.6,462.0 1520.4,464.9 1521.2,467.7 1522.0,470.6 1522.8,473.5 1523.6,476.4 1524.4,479.3 1525.2,482.2 1526.0,485.1 1526.8,488.0 1527.6,490.9 1528.5,493.8 1529.3,496.6 1530.1,499.5 1530.9,502.4 1531.7,505.3 1532.5,508.2 1533.3,511.1 1534.1,514.0 1534.9,516.9 1535.7,519.8 1536.5,522.6 1537.4,525.5 1538.2,528.4 1539.1,531.3 1539.9,534.2 1540.8,537.0 1541.6,539.9 1542.5,542.8 1543.3,545.7 1544.2,548.5 1545.1,551.4 1546.1,554.2 1547.0,557.1 1548.0,559.9 1549.0,562.7 1550.0,565.6 1551.0,568.4 1552.0,571.2 1553.0,574.1 1554.0,576.9 1555.0,579.7 1556.0,582.5 1557.0,585.4 1558.0,588.2 1559.0,591.0 1560.0,593.8 1561.1,596.7 1562.1,599.5 1563.2,602.3 1564.3,605.1 1565.4,607.8 1566.5,610.6 1567.7,613.4 1568.8,616.2 1570.0,618.9 1571.2,621.7 1572.3,624.4 1573.5,627.2 1574.7,630.0 1575.9,632.7 1577.1,635.5 1578.3,638.2 1579.5,641.0 1580.7,643.7 1581.9,646.5 1583.1,649.2 1584.3,651.9 1585.6,654.7 1586.8,657.4 1588.1,660.1 1589.3,662.9 1590.6,665.6 1591.8,668.3 1593.1,671.0 1594.4,673.7 1595.7,676.4 1597.0,679.1 1598.4,681.8 1599.8,684.4 1601.2,687.1 1602.7,689.7 1604.2,692.3 1605.6,694.9 1607.1,697.5 1608.6,700.1 1610.1,702.7 1611.5,705.4 1612.9,708.0 1614.3,710.7 1615.7,713.3 1617.0,716.0 1618.4,718.7 1619.7,721.4 1621.1,724.0 1622.5,726.7 1623.9,729.3 1625.4,731.9 1626.9,734.5 1628.5,737.1 1630.1,739.6 1631.7,742.1 1633.4,744.6 1635.1,747.1 1636.7,749.6 1638.4,752.1 1640.1,754.6 1641.7,757.1 1643.4,759.6 1645.1,762.1 1646.7,764.6 1648.4,767.1 1650.1,769.5 1651.7,772.0 1653.4,774.5 1655.1,777.0 1656.9,779.4 1658.6,781.9 1660.4,784.3 1662.1,786.7 1663.9,789.2 1665.7,791.6 1667.5,794.0 1669.3,796.4 1671.1,798.8 1672.9,801.1 1674.8,803.5 1676.7,805.8 1678.6,808.1 1680.5,810.4 1682.4,812.7 1684.4,815.0 1686.5,817.1 1688.5,819.3 1690.6,821.5 1692.7,823.6 1694.8,825.7 1696.9,827.9 1699.0,830.0 1701.1,832.2 1703.2,834.4 1705.2,836.6 1707.2,838.8 1709.2,841.0 1711.2,843.2 1713.3,845.5 1715.3,847.7 1717.3,849.9 1719.3,852.1 1721.3,854.3 1723.4,856.6 1725.4,858.8 1727.4,861.0 1729.4,863.2 1731.4,865.4 1733.4,867.7 1735.4,869.9 1737.3,872.2 1739.2,874.5 1741.1,876.9 1743.0,879.2 1744.9,881.5 1746.8,883.9 1748.7,886.2 1750.6,888.5 1752.5,890.8 1754.5,893.1 1756.4,895.4 1758.4,897.6 1760.3,899.9 1762.2,902.2 1764.1,904.5 1766.0,906.9 1767.9,909.2 1769.7,911.6 1771.5,914.0 1773.4,916.3 1775.2,918.7 1777.0,921.1 1778.8,923.5 1780.6,925.9 1782.4,928.3 1784.2,930.7 1785.9,933.2 1787.7,935.6 1789.5,938.0 1791.2,940.5 1793.0,942.9 1794.7,945.3 1796.4,947.8 1798.2,950.2 1799.9,952.7 1801.7,955.1 1803.4,957.5 1805.2,960.0 1806.9,962.4 1808.6,964.9 1810.4,967.3 1812.1,969.8 1813.9,972.2 1815.6,974.6 1817.4,977.0 1819.2,979.5 1821.0,981.9 1822.8,984.2 1824.6,986.6 1826.5,989.0 1828.3,991.4 1830.1,993.8 1831.9,996.2 1833.7,998.6 1835.5,1001.0 1837.3,1003.4 1839.1,1005.8 1840.8,1008.2 1842.5,1010.7 1844.3,1013.1 1846.0,1015.6 1847.7,1018.0 1849.5,1020.5 1851.2,1022.9 1853.0,1025.4 1854.7,1027.8 1856.5,1030.2 1858.2,1032.7 1860.0,1035.1 1861.8,1037.5 1863.6,1039.9 1865.4,1042.3 1867.2,1044.7 1869.0,1047.1 1870.8,1049.5 1872.6,1051.9 1874.5,1054.2 1876.3,1056.6 1878.2,1058.9 1880.1,1061.2 1882.0,1063.5 1884.0,1065.8 1885.9,1068.1 1887.8,1070.4 1889.8,1072.7 1891.8,1074.9 1893.8,1077.1 1895.9,1079.3 1897.9,1081.5 1900.0,1083.6 1902.2,1085.7 1904.3,1087.9 1906.4,1090.0 1908.6,1092.1 1910.7,1094.1 1912.9,1096.2 1915.1,1098.2 1917.3,1100.2 1919.6,1102.3 1921.8,1104.3 1924.0,1106.3 1926.3,1108.2 1928.6,1110.2 1930.9,1112.1 1933.2,1114.0 1935.5,1115.9 1937.8,1117.8 1940.2,1119.6 1942.6,1121.5 1944.9,1123.3 1947.3,1125.1 1949.7,1126.9 1952.2,1128.7 1954.6,1130.4 1957.1,1132.1 1959.5,1133.8 1962.0,1135.5 1964.5,1137.2 1967.0,1138.8 1969.6,1140.4 1972.1,1142.0 1974.7,1143.5 1977.3,1145.0 1979.9,1146.5 1982.5,1148.0 1985.1,1149.5 1987.8,1150.9 1990.4,1152.2 1993.1,1153.6 1995.8,1154.9 1998.5,1156.3 2001.2,1157.6 2003.9,1158.8 2006.6,1160.1 2009.3,1161.3 2012.1,1162.6 2014.8,1163.8 2017.6,1164.9 2020.4,1166.0 2023.2,1167.1 2026.0,1168.1 2028.8,1169.2 2031.6,1170.1 2034.5,1171.1 2037.3,1172.0 2040.2,1172.9 2043.1,1173.8 2045.9,1174.6 2048.8,1175.5 2051.7,1176.3 2054.6,1177.1 2057.5,1177.8 2060.4,1178.5 2063.4,1179.2 2066.3,1179.8 2069.2,1180.5 2072.1,1181.2 2075.0,1181.9 2077.9,1182.6 2080.9,1183.3 2083.8,1184.0 2086.7,1184.6 2089.7,1185.2 2092.6,1185.8 2095.5,1186.3 2098.5,1186.8 2101.5,1187.4 2104.4,1187.8 2107.4,1188.3 2110.3,1188.7 2113.2,1189.0 2116.0,1189.2 2118.8,1189.4 2121.4,1189.6 2124.0,1189.7" fill="none" stroke="#ff0000" stroke-width="3.4" stroke-linejoin="round"/>
<g fill="#000" stroke="none">
<polygon points="1306.1,316.0 1268.1,306.0 1268.1,326.0"/>
<polygon points="1394.0,318.0 1432.0,308.0 1432.0,328.0"/>
<polygon points="1233.2,424.2 1195.2,414.2 1195.2,434.2"/>
<polygon points="1289.8,425.8 1327.8,415.8 1327.8,435.8"/>
<polygon points="1492.1,424.8 1454.1,414.8 1454.1,434.8"/>
<polygon points="1505.1,424.8 1543.1,414.8 1543.1,434.8"/>
<polygon points="1171.3,555.9 1133.3,545.9 1133.3,565.9"/>
<polygon points="1215.8,555.0 1253.8,545.0 1253.8,565.0"/>
<polygon points="1030.0,1049.6 992.0,1039.6 992.0,1059.6"/>
<polygon points="1044.0,1050.0 1082.0,1040.0 1082.0,1060.0"/>
<polygon points="1872.0,1053.6 1834.0,1043.6 1834.0,1063.6"/>
<polygon points="1885.9,1053.6 1923.9,1043.6 1923.9,1063.6"/>
<polygon points="2033.3,1176.3 1995.3,1166.3 1995.3,1186.3"/>
<polygon points="2114.9,1176.0 2152.9,1166.0 2152.9,1186.0"/>
<polygon points="450.0,1279.5 412.0,1269.5 412.0,1289.5"/>
<polygon points="685.0,1279.5 723.0,1269.5 723.0,1289.5"/>
</g>
<g stroke="#000" stroke-width="3" fill="none">
<line x1="1298.1" y1="316.0" x2="1402.0" y2="318.0"/>
<line x1="1225.2" y1="424.2" x2="1297.8" y2="425.8"/>
<line x1="1484.1" y1="424.8" x2="1513.1" y2="424.8"/>
<line x1="1163.3" y1="555.9" x2="1223.8" y2="555.0"/>
<line x1="1022.0" y1="1049.6" x2="1052.0" y2="1050.0"/>
<line x1="1864.0" y1="1053.6" x2="1893.9" y2="1053.6"/>
<line x1="2025.3" y1="1176.3" x2="2122.9" y2="1176.0"/>
<line x1="442.0" y1="1279.5" x2="693.0" y2="1279.5"/>
</g>
<rect x="1808.5" y="75.5" width="333" height="224" fill="#fff" stroke="#000" stroke-width="3"/>
<line x1="1833" y1="125" x2="1999" y2="125" stroke="#000" stroke-width="3.5"/>
<line x1="1833" y1="237.5" x2="1999" y2="237.5" stroke="#ff0000" stroke-width="3.5"/>
<text class="lg" transform="translate(2015,150) scale(1.045,1)">T</text>
<text class="sub" x="2053.5" y="176">pcm</text>
<text class="lg" transform="translate(2015,263) scale(1.045,1)">T</text>
<text class="sub" x="2055.5" y="289">ref</text>
<text class="tk" transform="translate(280,1454.0) scale(1,1.025)" text-anchor="end">5</text>
<text class="tk" transform="translate(280,1329.0) scale(1,1.025)" text-anchor="end">10</text>
<text class="tk" transform="translate(280,1204.0) scale(1,1.025)" text-anchor="end">15</text>
<text class="tk" transform="translate(280,1079.0) scale(1,1.025)" text-anchor="end">20</text>
<text class="tk" transform="translate(280,954.0) scale(1,1.025)" text-anchor="end">25</text>
<text class="tk" transform="translate(280,829.0) scale(1,1.025)" text-anchor="end">30</text>
<text class="tk" transform="translate(280,704.0) scale(1,1.025)" text-anchor="end">35</text>
<text class="tk" transform="translate(280,579.0) scale(1,1.025)" text-anchor="end">40</text>
<text class="tk" transform="translate(280,454.0) scale(1,1.025)" text-anchor="end">45</text>
<text class="tk" transform="translate(280,329.0) scale(1,1.025)" text-anchor="end">50</text>
<text class="tk" transform="translate(280,204.0) scale(1,1.025)" text-anchor="end">55</text>
<text class="tk" transform="translate(280,79.0) scale(1,1.025)" text-anchor="end">60</text>
<text class="tk" transform="translate(310.0,1531.3) scale(1,1.025)" text-anchor="middle">00:00</text>
<text class="tk" transform="translate(618.5,1531.3) scale(1,1.025)" text-anchor="middle">04:00</text>
<text class="tk" transform="translate(927.0,1531.3) scale(1,1.025)" text-anchor="middle">08:00</text>
<text class="tk" transform="translate(1235.5,1531.3) scale(1,1.025)" text-anchor="middle">12:00</text>
<text class="tk" transform="translate(1544.0,1531.3) scale(1,1.025)" text-anchor="middle">16:00</text>
<text class="tk" transform="translate(1852.5,1531.3) scale(1,1.025)" text-anchor="middle">20:00</text>
<text class="tk" transform="translate(2161.0,1531.3) scale(1,1.025)" text-anchor="middle">24:00</text>
<text transform="translate(83.5,152) scale(1.09,0.95)" x="0" y="0" style="font-size:119px;font-style:italic">a</text>
<text class="tk" x="1144.5" y="1682" style="font-style:italic">t</text>
<g transform="rotate(-90)">
<text class="tk" transform="translate(-773,78) scale(1.07,1)" style="font-style:italic">T</text>
<text class="tk" x="-698" y="78">(</text>
<text x="-666.5" y="33.5" style="font-size:53px">o</text>
<text class="tk" x="-638.5" y="78">C</text>
<text class="tk" x="-577.5" y="78">)</text>
</g>
<text class="an" x="1513.5" y="310.3">1h10min</text>
<text class="an" x="963.5" y="413">48min</text>
<text class="an" x="1613.5" y="423">16min</text>
<text class="an" x="924.5" y="545.3">37min</text>
<text class="an" x="803" y="1034.4">12min</text>
<text class="an" x="1930.5" y="1033">15min</text>
<text class="an" x="1766.5" y="1167.8">45min</text>
<text class="an" x="726" y="1265">3h</text>
<text class="an" x="1861.5" y="1367.3">Concrete</text>
</svg></body></html>
